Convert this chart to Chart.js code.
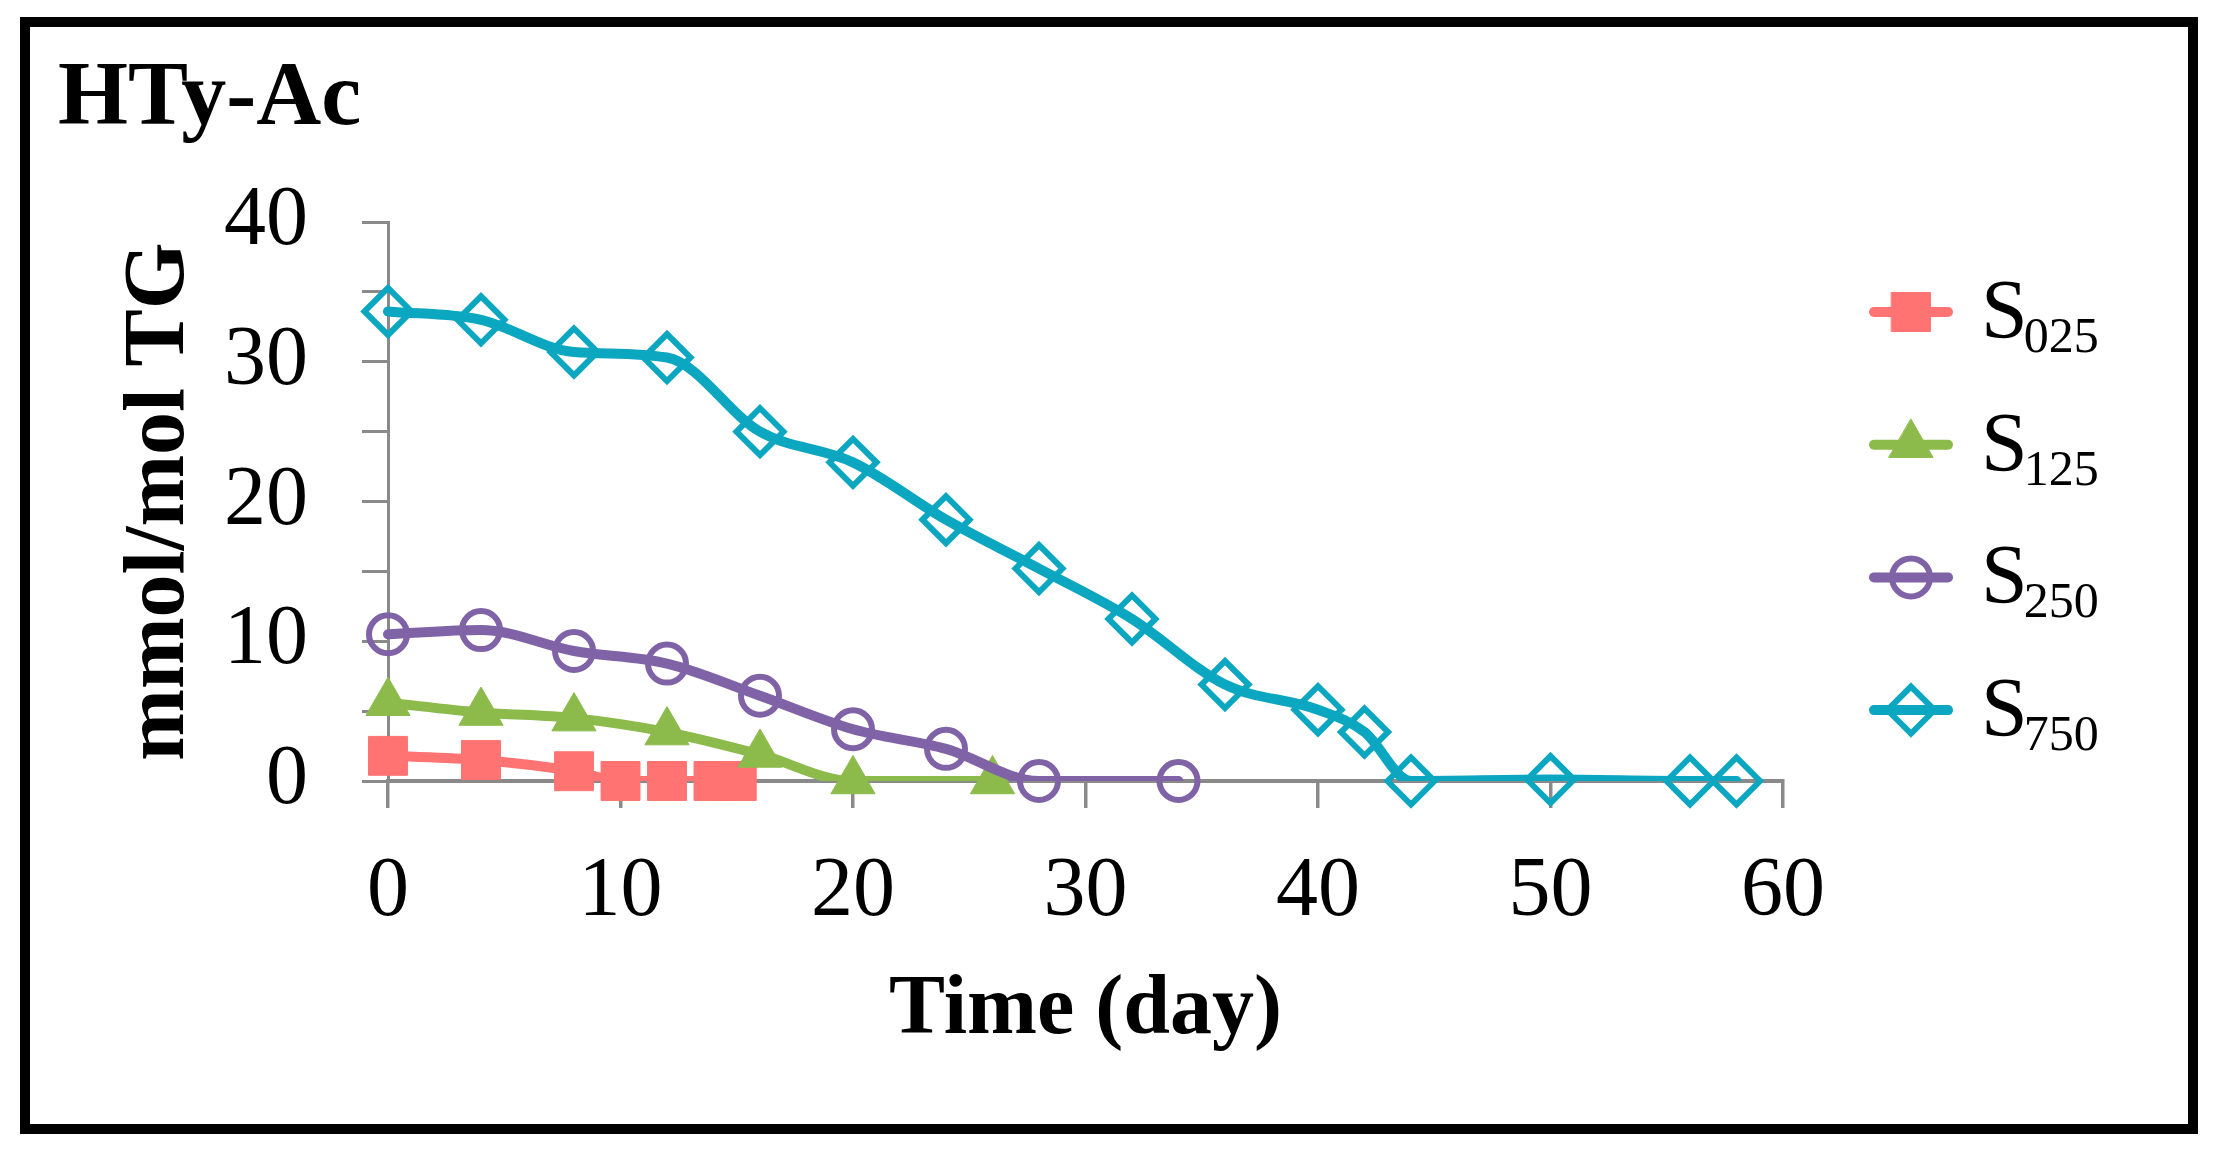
<!DOCTYPE html>
<html><head><meta charset="utf-8">
<script src="https://cdn.jsdelivr.net/npm/chart.js@4/dist/chart.umd.min.js"></script>
<style>
html,body{margin:0;padding:0;background:#fff;width:2221px;height:1155px;overflow:hidden}
#frame{position:absolute;left:20px;top:17px;width:2178px;height:1117px;border:10px solid #000;box-sizing:border-box;pointer-events:none}
canvas{position:absolute;left:0;top:0}
</style></head><body>
<canvas id="c" width="2221" height="1155"></canvas>
<div id="frame"></div>
<script>
// ---- data ----
const chartTitle = 'HTy-Ac';
const xTitle = 'Time (day)';
const yTitle = 'mmol/mol TG';
const seriesSubs = ['025', '125', '250', '750'];

const days025 = [0, 4, 8, 10, 12, 14, 15];
const vals025 = [1.8, 1.5, 0.7, 0, 0, 0, 0];

const days125 = [0, 4, 8, 12, 16, 20, 26];
const vals125 = [5.6, 4.9, 4.5, 3.5, 1.9, 0, 0];

const days250 = [0, 4, 8, 12, 16, 20, 24, 28, 34];
const vals250 = [10.5, 10.8, 9.3, 8.4, 6.1, 3.7, 2.3, 0, 0];

const days750 = [0, 4, 8, 12, 16, 20, 24, 28, 32, 36, 40, 42, 44, 50, 56, 58];
const vals750 = [33.6, 33.0, 30.7, 30.3, 25.0, 22.8, 18.7, 15.2, 11.6, 6.9, 5.1, 3.5, 0, 0.1, 0, 0];

const xTicks = [0, 10, 20, 30, 40, 50, 60];
const yTicks = [0, 10, 20, 30, 40];

// ---- styles ----
const FONT = '"Liberation Serif", "Times New Roman", serif';
const LINE_W = 10;
const styles = [
  {color: '#FF7373', fill: '#FF7373', style: 'rect', r: 27.5, bw: 1},
  {color: '#8CBB4B', fill: '#8CBB4B', style: 'triangle', r: 25.5, bw: 1},
  {color: '#8063A7', fill: 'rgba(0,0,0,0)', style: 'circle', r: 19, bw: 6},
  {color: '#0BA6C0', fill: 'rgba(0,0,0,0)', style: 'rectRot', r: 23.5, bw: 6}
];
const allDays = [days025, days125, days250, days750];
const allVals = [vals025, vals125, vals250, vals750];

const datasets = [];
allDays.forEach((days, i) => {
  const pts = days.map((d, k) => ({x: d, y: allVals[i][k]}));
  const s = styles[i];
  datasets.push({
    label: 'S' + seriesSubs[i] + ' line',
    data: pts, showLine: true, borderColor: s.color, borderWidth: LINE_W,
    pointRadius: 0, pointHoverRadius: 0, cubicInterpolationMode: 'monotone',
    borderJoinStyle: 'round', borderCapStyle: 'round',
    clip: {left: false, right: false, top: false, bottom: 0},
    order: 10 - 2 * i
  });
  datasets.push({
    label: 'S' + seriesSubs[i],
    data: pts, showLine: false, pointStyle: s.style, pointRadius: s.r, pointHoverRadius: s.r,
    pointBorderWidth: s.bw, pointBorderColor: s.color, pointBackgroundColor: s.fill,
    clip: false, order: 9 - 2 * i
  });
});

function drawMarker(ctx, s, x, y) {
  ctx.beginPath();
  const r = s.r;
  if (s.style === 'rect') {
    const h = Math.SQRT1_2 * r; ctx.rect(x - h, y - h, 2 * h, 2 * h);
  } else if (s.style === 'triangle') {
    ctx.moveTo(x, y - r);
    ctx.lineTo(x + Math.sin(2 * Math.PI / 3) * r, y - Math.cos(2 * Math.PI / 3) * r);
    ctx.lineTo(x + Math.sin(4 * Math.PI / 3) * r, y - Math.cos(4 * Math.PI / 3) * r);
    ctx.closePath();
  } else if (s.style === 'circle') {
    ctx.arc(x, y, r, 0, Math.PI * 2);
  } else {
    ctx.moveTo(x, y - r); ctx.lineTo(x + r, y); ctx.lineTo(x, y + r); ctx.lineTo(x - r, y); ctx.closePath();
  }
  ctx.fillStyle = s.fill; ctx.fill();
  ctx.strokeStyle = s.color; ctx.lineWidth = s.bw; ctx.stroke();
}

const legendPlugin = {
  id: 'subLegend',
  afterDraw(chart) {
    const ctx = chart.ctx;
    styles.forEach((s, i) => {
      const y = 312 + i * 132.7;
      ctx.save();
      ctx.strokeStyle = s.color; ctx.lineWidth = LINE_W; ctx.lineCap = 'round';
      ctx.beginPath(); ctx.moveTo(1874, y); ctx.lineTo(1948, y); ctx.stroke();
      drawMarker(ctx, s, 1911, y);
      ctx.fillStyle = '#000';
      ctx.textAlign = 'left'; ctx.textBaseline = 'alphabetic';
      ctx.font = '84px ' + FONT;
      ctx.fillText('S', 1981, y + 26);
      const w = ctx.measureText('S').width;
      ctx.font = '50px ' + FONT;
      ctx.fillText(seriesSubs[i], 1981 + w - 4, y + 40);
      ctx.restore();
    });
  }
};

new Chart(document.getElementById('c'), {
  type: 'scatter',
  data: {datasets},
  plugins: [legendPlugin],
  options: {
    responsive: false, animation: false, devicePixelRatio: 1,
    layout: {padding: {left: 58, right: 438, top: 0, bottom: 0}},
    plugins: {
      legend: {display: false}, tooltip: {enabled: false},
      title: {display: true, text: chartTitle, align: 'start', color: '#000',
        font: {family: FONT, size: 90, weight: 'bold'}, padding: {top: 47, bottom: 67}}
    },
    scales: {
      x: {
        type: 'linear', min: 0, max: 60,
        afterFit: s => { s.height = 374; },
        afterBuildTicks: s => { s.ticks = xTicks.map(v => ({value: v})); },
        ticks: {color: '#000', font: {family: FONT, size: 84}, padding: 35, autoSkip: false, maxRotation: 0},
        grid: {display: true, drawOnChartArea: false, drawTicks: true, tickLength: 27, color: '#8a8a8a', lineWidth: 3.5},
        border: {display: true, color: '#8a8a8a', width: 4},
        title: {display: true, text: xTitle, color: '#000', font: {family: FONT, size: 84, weight: 'bold'}, padding: {top: 0, bottom: 93}}
      },
      y: {
        type: 'linear', min: 0, max: 40,
        afterFit: s => { s.width = 330; },
        ticks: {stepSize: 5, color: '#000', font: {family: FONT, size: 84}, padding: 54, autoSkip: false,
          callback: v => (yTicks.includes(v) ? String(v) : '')},
        grid: {display: true, drawOnChartArea: false, drawTicks: true, tickLength: 26, color: '#8a8a8a', lineWidth: 3},
        border: {display: true, color: '#8a8a8a', width: 3},
        title: {display: true, text: yTitle, color: '#000', font: {family: FONT, size: 86, weight: 'bold'}, padding: {top: 51, bottom: 0}}
      }
    }
  }
});
</script>
</body></html>
